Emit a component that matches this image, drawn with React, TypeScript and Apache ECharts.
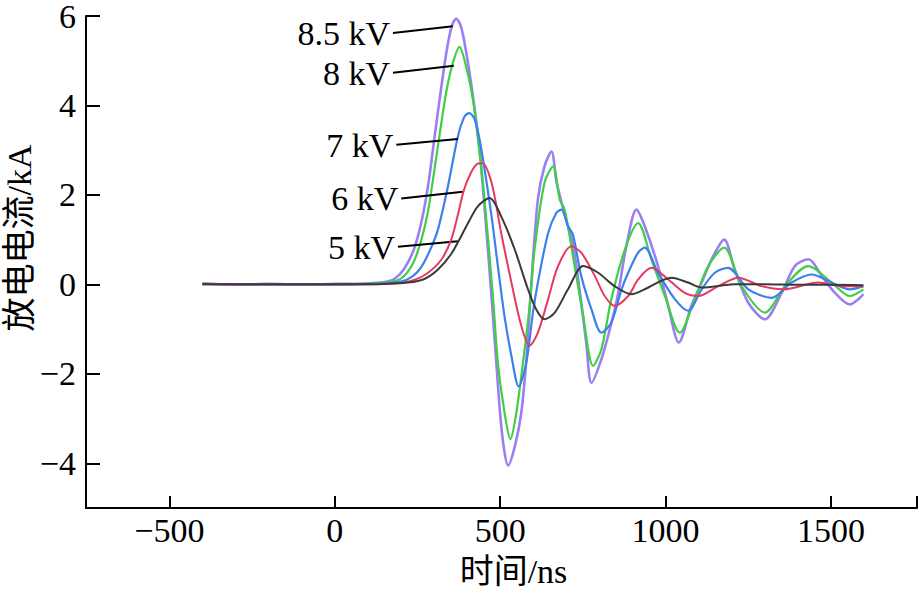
import React, { useEffect, useRef } from "react";
import * as echarts from "echarts";

const kv85: [number, number][] = [
  [-400, 0.02], [-300, -0.01], [-200, 0.01], [-100, -0.01], [0, 0.01], [100, 0.02], [150, 0.05],
  [180, 0.12], [210, 0.35], [240, 0.8], [262, 1.4], [282, 2.2], [300, 3.2], [320, 4.3],
  [340, 5.3], [355, 5.8], [367, 5.94], [382, 5.75], [397, 5.2], [412, 4.5], [425, 3.8], [438, 3.0],
  [463, 0.78], [483, -1.2], [500, -2.9], [512, -3.7], [524, -4.05], [545, -3.6], [564, -2.86],
  [580, -1.6], [594, 0], [614, 1.9], [634, 2.64], [655, 2.97], [670, 2.3], [690, 1.7], [705, 1.3],
  [720, 0.9], [745, -0.4], [760, -1.3], [776, -2.2], [806, -1.67], [835, -0.9], [857, -0.19],
  [880, 0.8], [912, 1.67], [937, 1.3], [977, 0.41], [1008, -0.48], [1040, -1.3], [1078, -0.48],
  [1109, 0.04], [1144, 0.63], [1177, 1.0], [1209, 0.33], [1250, -0.41], [1300, -0.78],
  [1351, -0.19], [1391, 0.41], [1432, 0.56], [1472, 0.19], [1512, -0.19], [1557, -0.45],
  [1580, -0.35], [1598, -0.22],
];

const kv8: [number, number][] = [
  [-400, 0.01], [-200, 0], [0, 0], [150, 0.04], [200, 0.13], [235, 0.45], [260, 0.95], [281, 1.6],
  [300, 2.5], [318, 3.4], [337, 4.3], [357, 4.95], [377, 5.31], [397, 4.87], [418, 4.12],
  [433, 3.23], [448, 2.27], [478, -0.26], [493, -1.75], [513, -2.86], [531, -3.46], [549, -2.86],
  [569, -1.75], [589, -0.48], [604, 0.78], [634, 2.27], [660, 2.64], [680, 1.9], [695, 1.67],
  [725, 0.41], [751, -0.71], [781, -1.82], [806, -1.45], [836, -0.33], [877, 0.78], [917, 1.37],
  [957, 0.56], [998, -0.26], [1043, -1.08], [1088, -0.33], [1129, 0.41], [1177, 0.82],
  [1230, -0.04], [1300, -0.63], [1361, -0.04], [1432, 0.41], [1502, 0.04], [1557, -0.26],
  [1598, -0.11],
];

const kv7: [number, number][] = [
  [-400, 0.01], [-200, 0], [0, 0], [150, 0.02], [200, 0.06], [235, 0.18], [261, 0.38], [290, 0.8],
  [312, 1.23], [342, 2.19], [372, 3.3], [392, 3.75], [407, 3.83], [422, 3.7], [436, 3.3],
  [448, 2.8], [474, 1.52], [493, 0.41], [513, -0.71], [534, -1.6], [556, -2.28], [579, -1.75],
  [599, -0.63], [614, 0.04], [645, 1.15], [670, 1.6], [685, 1.67], [705, 1.3], [720, 1.11],
  [745, 0.19], [776, -0.56], [806, -1.08], [836, -0.85], [867, -0.11], [887, 0.26], [917, 0.71],
  [937, 0.82], [977, 0.26], [1028, -0.33], [1068, -0.59], [1109, -0.11], [1149, 0.26],
  [1189, 0.37], [1250, -0.11], [1320, -0.3], [1381, 0.04], [1441, 0.22], [1502, 0.04],
  [1557, -0.11], [1598, -0.04],
];

const kv6: [number, number][] = [
  [-400, 0], [-200, 0], [0, 0], [150, 0.01], [200, 0.03], [240, 0.1], [280, 0.25], [322, 0.55],
  [352, 1.0], [372, 1.55], [390, 2.1], [412, 2.5], [432, 2.7], [446, 2.71], [474, 2.27],
  [503, 1.15], [534, 0.04], [564, -0.93], [589, -1.37], [614, -1.08], [645, -0.33], [675, 0.41],
  [715, 0.85], [745, 0.71], [786, 0.19], [816, -0.26], [846, -0.48], [887, -0.26], [917, 0.11],
  [957, 0.37], [1008, 0.11], [1058, -0.19], [1099, -0.26], [1159, -0.04], [1220, 0.15],
  [1290, -0.04], [1356, -0.11], [1462, 0.04], [1532, -0.04], [1598, -0.04],
];

const kv5: [number, number][] = [
  [-400, 0], [-200, 0], [0, 0], [150, 0.01], [221, 0.04], [271, 0.12], [312, 0.33], [352, 0.68],
  [380, 1.05], [405, 1.4], [433, 1.75], [468, 1.93], [503, 1.52], [544, 0.78], [584, -0.11],
  [609, -0.56], [634, -0.78], [665, -0.63], [705, -0.11], [751, 0.41], [796, 0.26], [846, -0.04],
  [897, -0.22], [937, -0.11], [1018, 0.15], [1068, 0.04], [1109, -0.07], [1209, 0.0],
  [1300, 0.0], [1400, -0.01], [1500, -0.01], [1598, -0.02],
];

const seriesNames = ["8.5 kV", "8 kV", "7 kV", "6 kV", "5 kV"];
const seriesColors = ["#9b7ef2", "#3fcf45", "#3b80ec", "#e53a5e", "#3a3a3a"];
const seriesWidths = [2.6, 2.2, 2.2, 2, 2];
// leader lines: [label end (start of line), point on curve]
const leaders: [number, number, number, number][] = [
  [176, 5.62, 357, 5.77],
  [176, 4.73, 360, 4.89],
  [186, 3.12, 372, 3.25],
  [201, 1.92, 387, 2.07],
  [191, 0.84, 372, 0.965],
];

const yTicks = [-4, -2, 0, 2, 4, 6];
const xTicks = [-500, 0, 500, 1000, 1500];
const X_MIN = -752;
const X_MAX = 1760;

const FONT = '"Liberation Serif", "Times New Roman", "Noto Sans CJK SC", serif';
const FS = 34;

export default function App() {
  const ref = useRef<HTMLDivElement>(null);
  useEffect(() => {
    if (!ref.current) return;
    const chart = echarts.init(ref.current, null, { renderer: "svg" });
    const dataSets = [kv85, kv8, kv7, kv6, kv5];
    const series = dataSets.map((d, i) => ({
      type: "line",
      name: seriesNames[i],
      data: d,
      showSymbol: false,
      smooth: 0.3,
      lineStyle: { color: seriesColors[i], width: seriesWidths[i] },
      itemStyle: { color: seriesColors[i] },
      z: 2 + i,
      markLine: {
        silent: true,
        symbol: ["none", "none"],
        animation: false,
        lineStyle: { color: "#000", width: 2, type: "solid" },
        label: {
          show: true,
          position: "start",
          formatter: seriesNames[i],
          color: "#000",
          fontFamily: FONT,
          fontSize: FS,
          distance: 3,
        },
        data: [
          [
            { coord: [leaders[i][0], leaders[i][1]] },
            { coord: [leaders[i][2], leaders[i][3]] },
          ],
        ],
      },
    }));
    chart.setOption({
      animation: false,
      grid: { left: 86, top: 16, right: 2, bottom: 82, containLabel: false, outerBoundsMode: "none" },
      xAxis: {
        type: "value",
        min: X_MIN,
        max: X_MAX,
        name: "时间/ns",
        nameLocation: "middle",
        nameGap: 46,
        nameMoveOverlap: false,
        nameTextStyle: { fontFamily: FONT, fontSize: FS, color: "#000", padding: [0, 0, 0, 24] },
        axisLine: { show: true, onZero: false, lineStyle: { color: "#000", width: 2 } },
        axisTick: {
          show: true,
          inside: true,
          length: 12,
          lineStyle: { color: "#000", width: 2 },
          customValues: [...xTicks, X_MAX],
        },
        axisLabel: {
          show: true,
          margin: 5,
          color: "#000",
          fontFamily: FONT,
          fontSize: FS,
          customValues: xTicks,
          formatter: (v: number) => String(v).replace("-", "\u2212"),
        },
        splitLine: { show: false },
      },
      yAxis: {
        type: "value",
        min: -5,
        max: 6,
        name: "放电电流/kA",
        nameLocation: "middle",
        nameRotate: 90,
        nameGap: 52,
        nameMoveOverlap: false,
        nameTextStyle: {
          fontFamily: FONT,
          fontSize: FS,
          lineHeight: 30,
          color: "#000",
          padding: [0, 0, 0, 48],
        },
        axisLine: { show: true, onZero: false, lineStyle: { color: "#000", width: 2 } },
        axisTick: {
          show: true,
          inside: true,
          length: 14,
          lineStyle: { color: "#000", width: 2 },
          customValues: yTicks,
        },
        axisLabel: {
          show: true,
          margin: 10,
          color: "#000",
          fontFamily: FONT,
          fontSize: FS,
          lineHeight: 22,
          customValues: yTicks,
          formatter: (v: number) => String(v).replace("-", "\u2212"),
        },
        splitLine: { show: false },
      },
      series,
    });
    return () => chart.dispose();
  }, []);
  return (
    <div
      ref={ref}
      style={{ position: "absolute", left: 0, top: 0, width: 919, height: 590, background: "#fff" }}
    />
  );
}
